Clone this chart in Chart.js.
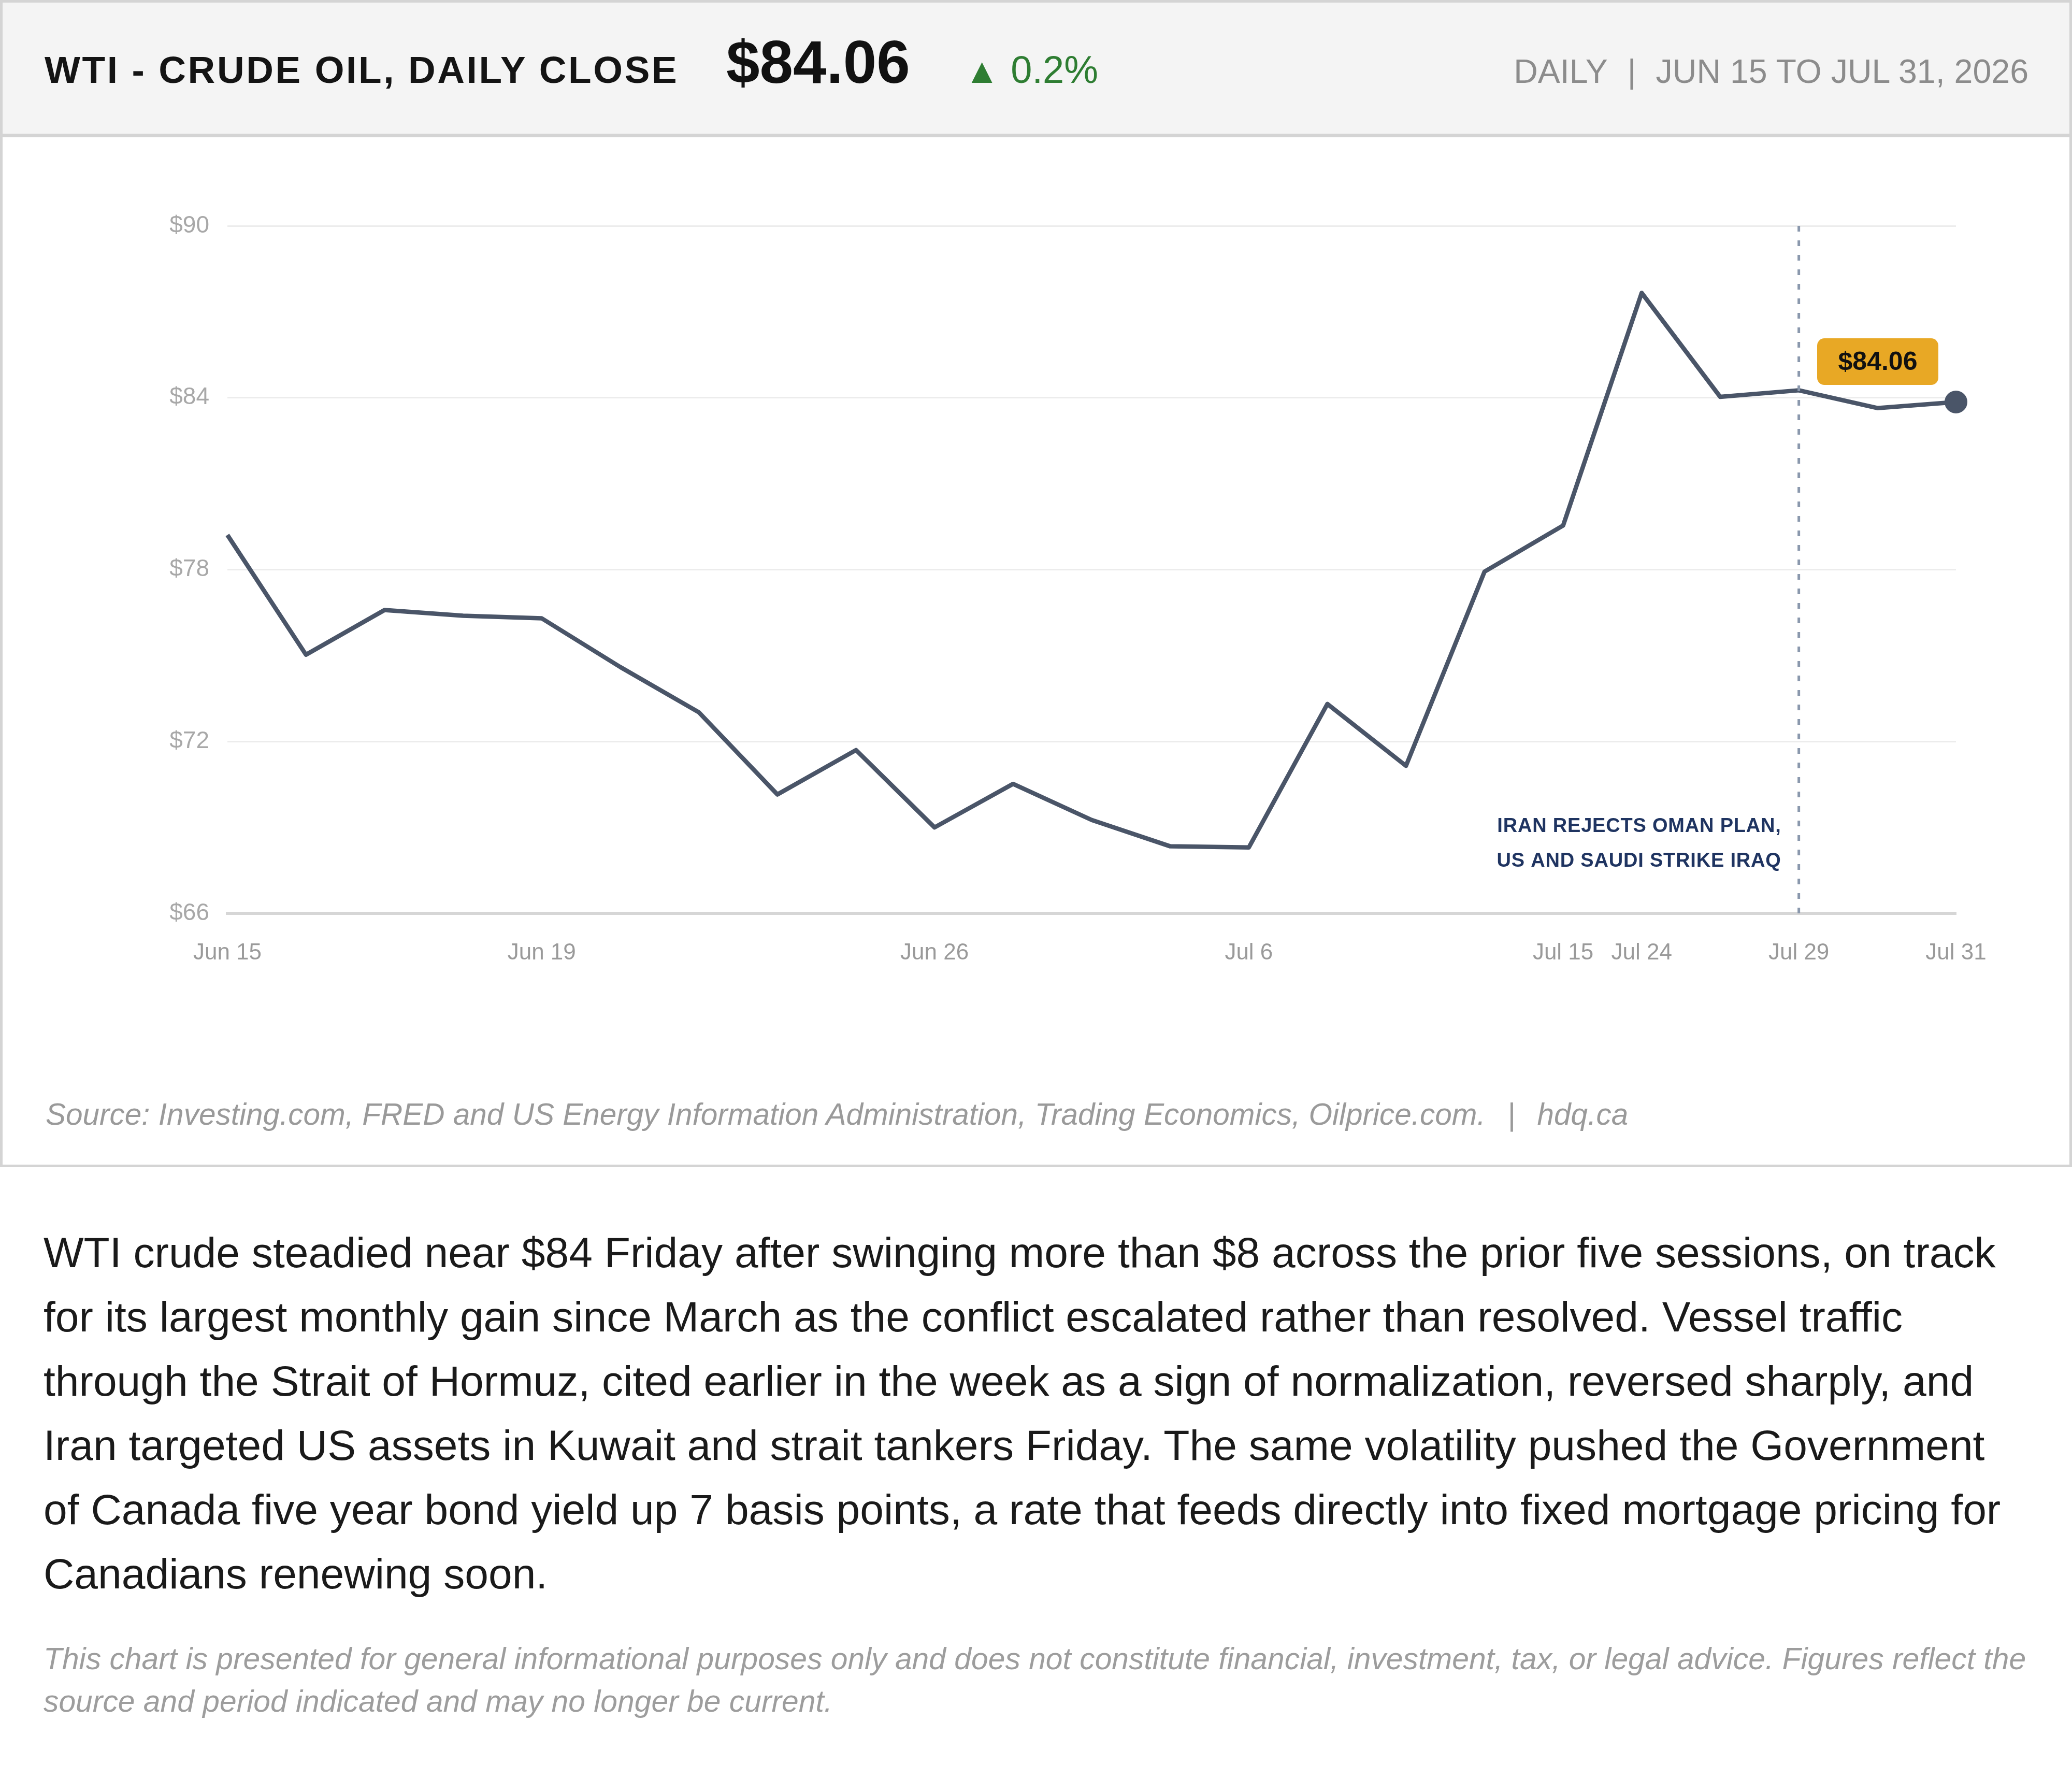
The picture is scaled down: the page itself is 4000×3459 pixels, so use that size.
<!DOCTYPE html>
<html>
<head>
<meta charset="utf-8">
<script src="https://cdn.jsdelivr.net/npm/chart.js@4.4.1/dist/chart.umd.min.js"></script>
<style>
  html, body { margin: 0; padding: 0; width: 4000px; height: 3459px; overflow: hidden; background: #fff; }
  body { font-family: "Liberation Sans", Arial, sans-serif; position: relative; }
  .card { position: absolute; left: 0; top: 0; width: 4000px; height: 2253px; box-sizing: border-box; border: 5px solid #d4d4d4; }
  .head { position: absolute; left: 0; top: 0; width: 3990px; height: 253px; background: #f4f4f4; border-bottom: 7px solid #d4d4d4; }
  .abs { position: absolute; white-space: nowrap; line-height: 1; }
  #title { left: 86px; top: 98px; font-size: 73px; font-weight: bold; letter-spacing: 3.6px; color: #141414; }
  #price { left: 1402px; top: 62px; font-size: 116px; font-weight: bold; color: #111; }
  #change { left: 1862px; top: 98px; font-size: 74px; color: #2e7d32; }
  #change .tri { font-size: 68px; margin-right: 22px; }
  #range { right: 84px; top: 106px; font-size: 64.5px; color: #8c8c8c; }
  #range .sep { margin: 0 38px 0 38px; }
  #chartBox { position: absolute; left: 5px; top: 265px; width: 3990px; height: 1700px; }
  #source { left: 88px; top: 2122px; font-size: 58.5px; font-style: italic; color: #9a9a9a; }
  #source .sep { margin: 0 26px; }
  #body { position: absolute; left: 84px; top: 2356px; font-size: 82.2px; line-height: 124px; color: #1a1a1a; white-space: nowrap; }
  #note { position: absolute; left: 84px; top: 3161px; font-size: 58.8px; line-height: 82px; font-style: italic; color: #9d9d9d; white-space: nowrap; }
</style>
</head>
<body>
<div class="card">
  <div class="head"></div>
</div>
<div class="abs" id="title">WTI - CRUDE OIL, DAILY CLOSE</div>
<div class="abs" id="price">$84.06</div>
<div class="abs" id="change"><span class="tri">▲</span>0.2%</div>
<div class="abs" id="range">DAILY<span class="sep">|</span>JUN 15 TO JUL 31, 2026</div>

<div id="chartBox"><canvas id="oilChart"></canvas></div>

<div class="abs" id="source">Source: Investing.com, FRED and US Energy Information Administration, Trading Economics, Oilprice.com. <span class="sep">|</span> hdq.ca</div>

<div id="body">WTI crude steadied near $84 Friday after swinging more than $8 across the prior five sessions, on track<br>for its largest monthly gain since March as the conflict escalated rather than resolved. Vessel traffic<br>through the Strait of Hormuz, cited earlier in the week as a sign of normalization, reversed sharply, and<br>Iran targeted US assets in Kuwait and strait tankers Friday. The same volatility pushed the Government<br>of Canada five year bond yield up 7 basis points, a rate that feeds directly into fixed mortgage pricing for<br>Canadians renewing soon.</div>

<div id="note">This chart is presented for general informational purposes only and does not constitute financial, investment, tax, or legal advice. Figures reflect the<br>source and period indicated and may no longer be current.</div>

<script>
// Daily closes, Jun 15 to Jul 31 (only some days get a label)
const days = ['Jun 15', '', '', '', 'Jun 19', '', '', '', '', 'Jun 26', '', '', '', 'Jul 6',
  '', '', '', 'Jul 15', 'Jul 24', '', 'Jul 29', '', 'Jul 31'];
const closes = [79.21, 75.03, 76.59, 76.39, 76.30, 74.6, 73.02, 70.15, 71.70, 69.00, 70.52, 69.26,
  68.34, 68.30, 73.31, 71.15, 77.93, 79.54, 87.66, 84.03, 84.26, 83.64, 83.85];
const yTicks = [66, 72, 78, 84, 90];
const lastLabel = '$84.06';

// Event marker
const eventIndex = 20;
const eventText = ['IRAN REJECTS OMAN PLAN,', 'US AND SAUDI STRIKE IRAQ'];

const lineColor = '#4a5568';
const lastIndex = closes.length - 1;

Chart.defaults.font.family = '"Liberation Sans", Arial, sans-serif';

// dashed line + note for the event
const eventPlugin = {
  id: 'eventLine',
  afterDatasetsDraw(chart) {
    const { ctx, chartArea, scales } = chart;
    const x = scales.x.getPixelForValue(eventIndex);
    ctx.save();
    ctx.strokeStyle = '#8a98ad';
    ctx.lineWidth = 5;
    ctx.setLineDash([11, 17]);
    ctx.beginPath();
    ctx.moveTo(x, chartArea.top);
    ctx.lineTo(x, chartArea.bottom);
    ctx.stroke();
    ctx.setLineDash([]);

    ctx.fillStyle = '#1f3461';
    ctx.font = 'bold 38px "Liberation Sans", Arial, sans-serif';
    ctx.letterSpacing = '0.8px';
    ctx.textAlign = 'right';
    ctx.textBaseline = 'alphabetic';
    ctx.fillText(eventText[0], x - 34, chartArea.bottom - 157);
    ctx.fillText(eventText[1], x - 34, chartArea.bottom - 90);
    ctx.restore();
  }
};

// gold badge with the latest close
const badgePlugin = {
  id: 'lastBadge',
  afterDatasetsDraw(chart) {
    const { ctx, scales } = chart;
    const px = scales.x.getPixelForValue(lastIndex);
    const py = scales.y.getPixelForValue(closes[lastIndex]);
    const w = 234, h = 90;
    const right = px - 34, bottom = py - 33;
    ctx.save();
    ctx.fillStyle = '#e8a825';
    ctx.beginPath();
    ctx.roundRect(right - w, bottom - h, w, h, 14);
    ctx.fill();
    ctx.fillStyle = '#111';
    ctx.font = 'bold 50px "Liberation Sans", Arial, sans-serif';
    ctx.textAlign = 'center';
    ctx.textBaseline = 'middle';
    ctx.fillText(lastLabel, right - w / 2, bottom - h / 2 + 2);
    ctx.restore();
  }
};

const chart = new Chart(document.getElementById('oilChart'), {
  type: 'line',
  data: {
    labels: days,
    datasets: [{
      data: closes,
      borderColor: lineColor,
      backgroundColor: lineColor,
      borderWidth: 8.5,
      borderJoinStyle: 'round',
      tension: 0,
      pointRadius: (c) => c.dataIndex === lastIndex ? 22 : 0,
      pointHoverRadius: 0,
      pointBorderWidth: 0
    }]
  },
  options: {
    responsive: true,
    maintainAspectRatio: false,
    animation: false,
    layout: { padding: { top: 171, right: 219, bottom: 82, left: 0 } },
    plugins: { legend: { display: false }, tooltip: { enabled: false } },
    scales: {
      x: {
        offset: false,
        grid: { display: false, drawTicks: false },
        border: { display: true, color: '#d6d6d6', width: 6 },
        ticks: { autoSkip: false, maxRotation: 0, color: '#9a9a9a', font: { size: 44 }, padding: 50 },
        afterFit: (scale) => { scale.height = 120; }
      },
      y: {
        min: 66,
        max: 90,
        afterBuildTicks: (scale) => { scale.ticks = yTicks.map(v => ({ value: v })); },
        grid: { color: '#ececec', lineWidth: 3, drawTicks: false },
        border: { display: false },
        ticks: { color: '#a8a8a8', font: { size: 46 }, padding: 35, callback: (v) => '$' + v },
        afterFit: (scale) => { scale.width = 434; }
      }
    }
  },
  plugins: [eventPlugin, badgePlugin]
});
</script>
</body>
</html>
